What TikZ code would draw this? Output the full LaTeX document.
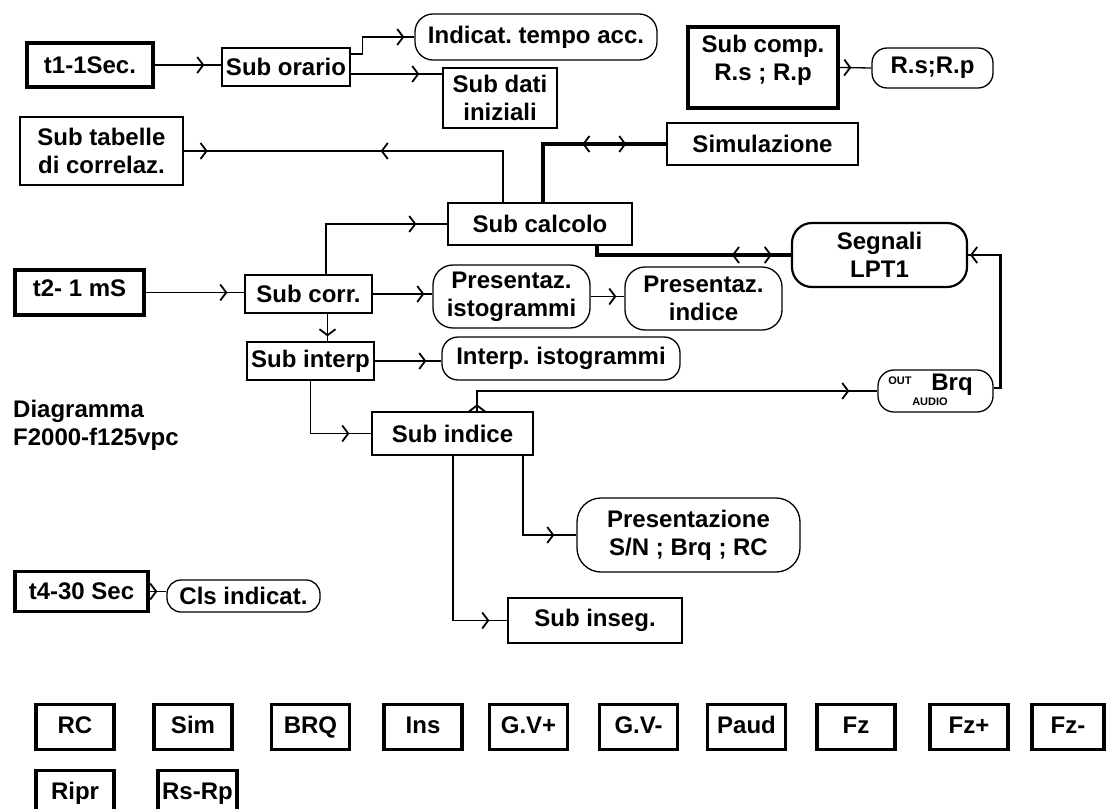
\documentclass[tikz,border=0pt]{standalone}
\usepackage{fontspec}
\setmainfont{Liberation Sans}
\usetikzlibrary{arrows.meta,decorations.markings}
\frenchspacing
\begin{document}
\begin{tikzpicture}[x=1pt,y=-1pt,
  every node/.style={font=\bfseries\fontsize{24}{28}\selectfont\frenchspacing, inner sep=0pt, align=center},
  sz/.style 2 args={minimum width=#1pt, minimum height=#2pt},
  box/.style={draw, rectangle, line width=1.3pt},
  tbox/.style={draw, rectangle, line width=3.5pt},
  btn/.style={tbox, text height=17pt, text depth=5pt},
  pill/.style={draw, rectangle, rounded corners=15pt, line width=1.3pt},
  conn/.style={line width=1.3pt},
  tconn/.style={line width=3.5pt},
  chev/.tip={Straight Barb[length=6pt,width=16pt,line width=1.8pt]},
  fwd/.style={postaction={decorate,decoration={markings,mark=at position #1 with {\arrow{chev}}}}},
  bwd/.style={postaction={decorate,decoration={markings,mark=at position #1 with {\arrowreversed{chev}}}}}
]
\useasboundingbox (0,0) rectangle (1107,808);
\clip (0,0) rectangle (1107,808);

% nodes
\node[tbox, sz={126}{44}] (t1) at (90,65) {t1-1Sec.};
\node[box, sz={128}{38}] (orario) at (286,67) {Sub orario};
\node[pill, rounded corners=18pt, sz={242}{46}] (indicat) at (536,37) {Indicat. tempo acc.};
\node[box, sz={114}{60}] (dati) at (500,98) {Sub dati\\iniziali};
\node[tbox, sz={150}{81}] (comp) at (763,67.5) {};
\node (comptxt) at (763,60) {Sub comp.\\R.s ; R.p};
\node[pill, sz={121}{40}] (rsrp) at (932.5,68) {R.s;R.p};
\node[box, sz={191}{42}] (simul) at (762.5,144) {Simulazione};
\node[box, sz={163}{68}] (tabelle) at (101.5,151) {Sub tabelle\\di correlaz.};
\node[box, sz={184}{42}] (calcolo) at (540,224) {Sub calcolo};
\node[pill, rounded corners=20pt, line width=2.2pt, sz={175}{64}] (segnali) at (879.5,255) {Segnali\\LPT1};
\node[tbox, sz={129}{45}] (t2) at (79.5,292.5) {};
\node (t2txt) at (79.5,288) {t2- 1 mS};
\node[box, sz={127}{38}] (corr) at (308.5,294) {Sub corr.};
\node[pill, rounded corners=20pt, sz={157}{63}] (pist) at (511.5,296.5) {Presentaz.\\istogrammi};
\node[pill, rounded corners=20pt, sz={157}{63}] (pind) at (703.5,298.5) {Presentaz.\\indice};
\node[box, sz={127}{38}] (interp) at (310.5,361) {Sub interp};
\node[pill, rounded corners=16pt, sz={238}{43}] (iist) at (561,358.5) {Interp. istogrammi};
\node[pill, rounded corners=16pt, sz={115}{42}] (brq) at (935.5,391) {};
\node[font=\bfseries\fontsize{11}{11}\selectfont] (brqout) at (900,381) {OUT};
\node (brqtxt) at (952,385) {Brq};
\node[font=\bfseries\fontsize{11}{11}\selectfont] (brqaudio) at (930,402) {AUDIO};
\node[box, sz={161}{43}] (indice) at (452.5,433.5) {Sub indice};
\node[pill, rounded corners=24pt, sz={223}{74}] (pres) at (688.5,535) {Presentazione\\S/N ; Brq ; RC};
\node[box, sz={174}{45}] (inseg) at (595,620.5) {Sub inseg.};
\node[tbox, sz={133}{40}] (t4) at (81.5,591.5) {t4-30 Sec};
\node[pill, rounded corners=14pt, sz={153}{32}] (cls) at (243.5,596) {Cls indicat.};
\node[anchor=west, align=left] (diag) at (13,425) {Diagramma\\F2000-f125vpc};

% bottom buttons
\node[btn, sz={78}{45}] (bRC) at (75,727) {RC};
\node[btn, sz={78}{45}] (bSim) at (193,727) {Sim};
\node[btn, sz={78}{45}] (bBRQ) at (310.5,727) {BRQ};
\node[btn, sz={78}{45}] (bIns) at (423,727) {Ins};
\node[btn, sz={78}{45}] (bGVp) at (528.5,727) {G.V+};
\node[btn, sz={78}{45}] (bGVm) at (638.5,727) {G.V-};
\node[btn, sz={78}{45}] (bPaud) at (746.5,727) {Paud};
\node[btn, sz={78}{45}] (bFz) at (856,727) {Fz};
\node[btn, sz={78}{45}] (bFzp) at (969,727) {Fz+};
\node[btn, sz={72}{45}] (bFzm) at (1068,727) {Fz-};
\node[btn, sz={78}{45}] (bRipr) at (75,793) {Ripr};
\node[btn, sz={79}{45}] (bRsRp) at (197.5,793) {Rs-Rp};

% helper coordinates
\coordinate (oA) at ([yshift=13pt]orario.east);
\coordinate (oB) at ([yshift=-7pt]orario.east);
\coordinate (cT) at ([xshift=3pt]calcolo.north);
\coordinate (cT2) at ([xshift=-37pt]calcolo.north);
\coordinate (cW) at ([xshift=17.5pt]corr.north);
\coordinate (cS) at ([xshift=57pt]calcolo.south);
\coordinate (cD) at ([xshift=19pt]corr.south);
\coordinate (iN) at ([xshift=24.5pt]indice.north);
\coordinate (iS1) at ([xshift=70.5pt]indice.south);
\coordinate (iS2) at ([xshift=0.5pt]indice.south);
\coordinate (bE) at ([yshift=3pt]brq.east);

% connectors
\draw[conn, fwd=-17pt] (t1.east) -- (t1.east -| orario.west);
\draw[conn, fwd=-10pt] (oA) -- ++(12,0) |- (indicat.west);
\draw[conn, fwd=-23pt] (oB) -- (oB -| dati.west);
\draw[conn, fwd=-20pt] (comp.east) -- (rsrp.west);
\draw[tconn, fwd=-40pt, bwd=-84pt] (cT) |- (simul.west);
\draw[conn, fwd=24pt, bwd=197pt] (tabelle.east) -| (cT2);
\draw[conn, fwd=-31pt] (cW) |- (calcolo.west);
\draw[tconn, fwd=-19pt, bwd=-59pt] (cS) |- (segnali.west);
\draw[conn, fwd=-17pt] (t2.east) -- (t2.east -| corr.west);
\draw[conn, fwd=-8pt] (corr.east) -- (corr.east -| pist.west);
\draw[conn, fwd=-8pt] (pist.east) -- (pist.east -| pind.west);
\draw[conn, fwd=-5pt] (cD) -- (cD |- interp.north);
\draw[conn, fwd=-15pt] (interp.east) -- (interp.east -| iist.west);
\draw[conn, fwd=-22pt] (interp.south) |- (indice.west);
\draw[conn, fwd=7pt, fwd=-28pt] (iN) |- (brq.west);
\draw[line width=2.5pt, fwd=-2pt] (bE) -- ++(7,0) |- (segnali.east);
\draw[conn, fwd=-22pt] (iS1) |- (pres.west);
\draw[conn, fwd=-18pt] (iS2) |- (inseg.west);
\draw[conn, fwd=-9pt] (t4.east) -- (t4.east -| cls.west);
\end{tikzpicture}
\end{document}
